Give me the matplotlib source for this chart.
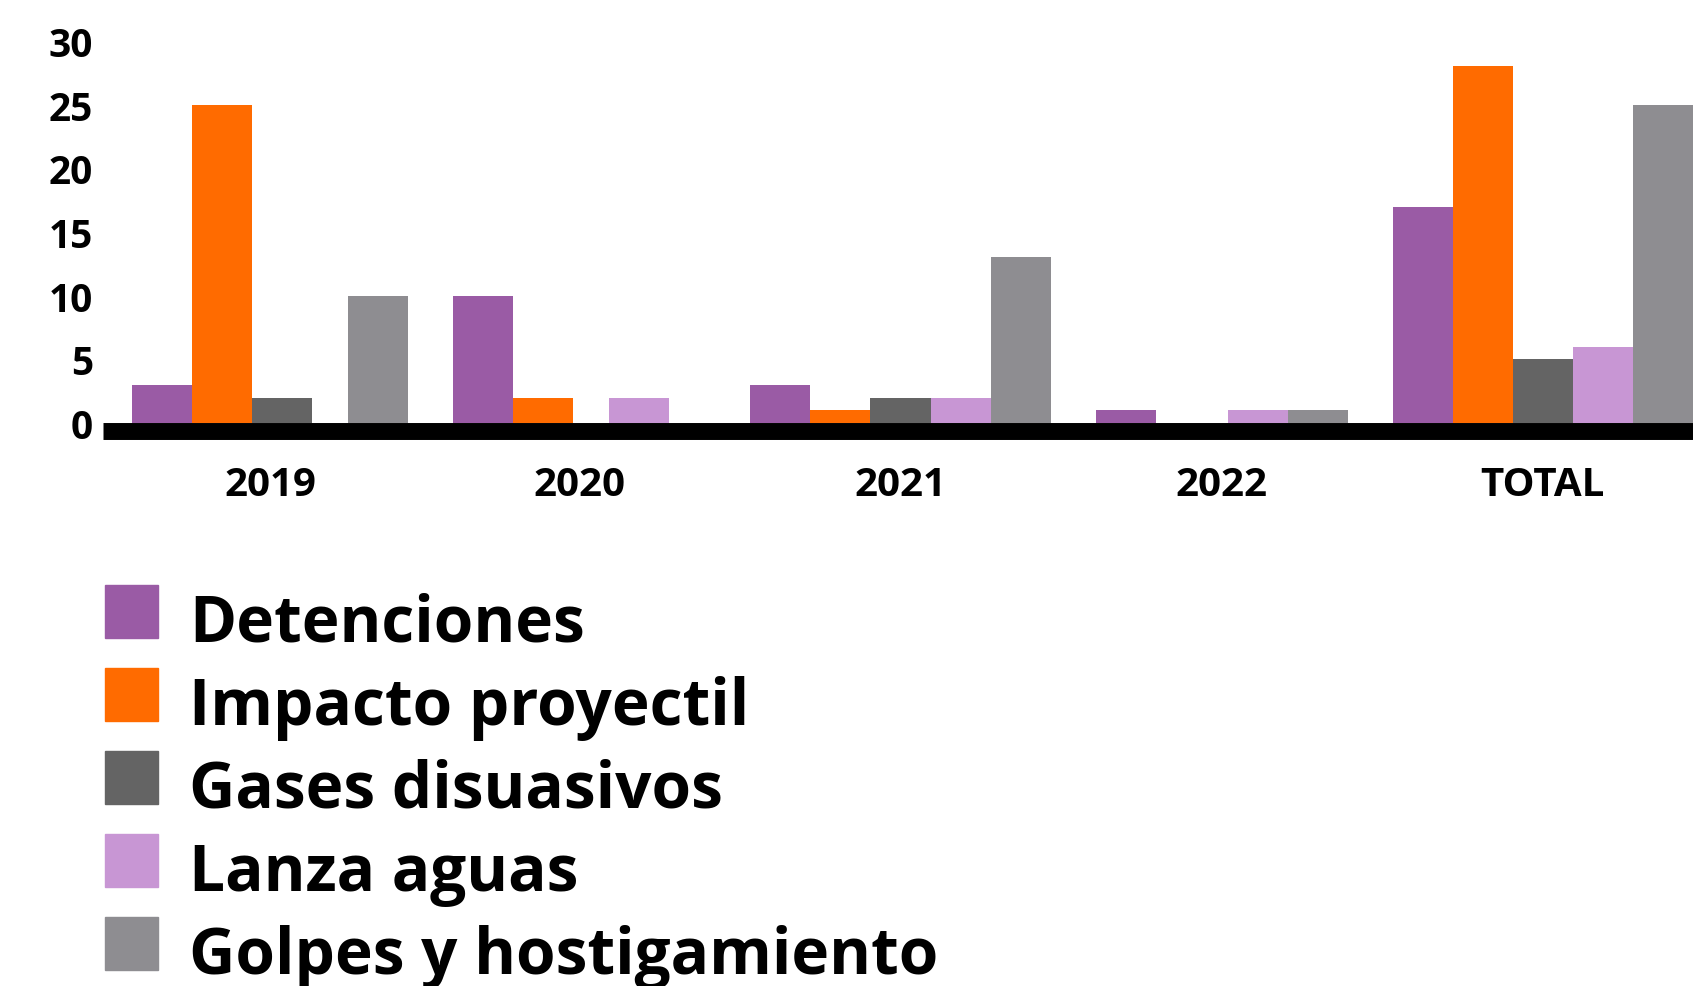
import matplotlib
matplotlib.use('Agg')
from matplotlib import pyplot as plt
from matplotlib.patches import Rectangle

# datos
years = ['2019', '2020', '2021', '2022', 'TOTAL']
detenciones = [3, 10, 3, 1, 17]
impacto = [25, 2, 1, 0, 28]
gases = [2, 0, 2, 0, 5]
lanza = [0, 2, 2, 1, 6]
golpes = [10, 0, 13, 1, 25]

names = ['Detenciones', 'Impacto proyectil', 'Gases disuasivos',
         'Lanza aguas', 'Golpes y hostigamiento']
colors = ['#9A5BA5', '#FF6B00', '#646464', '#C896D4', '#8E8D91']
series = [detenciones, impacto, gases, lanza, golpes]

plt.rcParams['font.family'] = ['Open Sans', 'DejaVu Sans']

W, H = 1693, 987
fig = plt.figure(figsize=(W / 100, H / 100), dpi=100)
ax = fig.add_axes([102.6 / W, 1 - 424 / H, 1 - 102.6 / W, (424 - 42) / H])

# posiciones: las barras en cero ocupan solo un hueco estrecho
zero_slot = 0.6
gap = 0.75
x = 0
pos = [[] for _ in series]
centers = []
for g in range(len(years)):
  start = x
  for s in range(len(series)):
    pos[s].append(x)
    x += 1 if series[s][g] > 0 else zero_slot
  centers.append((start + x) / 2)
  end = x
  x += gap

for s in range(len(series)):
  ax.bar(pos[s], series[s], width=1, align='edge', color=colors[s])

ax.set_xlim(-0.49, end)
ax.set_ylim(0, 30)
ax.set_yticks(range(0, 31, 5))
ax.set_xticks(centers)
ax.set_xticklabels(years)

for sp in ['top', 'right', 'left']:
  ax.spines[sp].set_visible(False)
ax.spines['bottom'].set_position(('outward', 6.1))
ax.spines['bottom'].set_linewidth(12.2)
ax.spines['bottom'].set_color('black')
ax.spines['bottom'].set_capstyle('butt')

ax.tick_params(axis='y', length=0, pad=7, labelsize=28)
ax.tick_params(axis='x', length=0, pad=24, labelsize=29)
for t in ax.get_xticklabels() + ax.get_yticklabels():
  t.set_fontweight('bold')

# leyenda
for i, (name, c) in enumerate(zip(names, colors)):
  top = 586 + 83 * i
  fig.add_artist(Rectangle((105 / W, 1 - (top + 53) / H), 53 / W, 53 / H,
                           transform=fig.transFigure, color=c))
  fig.text(189 / W, 1 - (top + 56) / H, name, fontsize=46,
           fontweight='bold', va='baseline', ha='left')

fig.savefig('out.png', dpi=100)
